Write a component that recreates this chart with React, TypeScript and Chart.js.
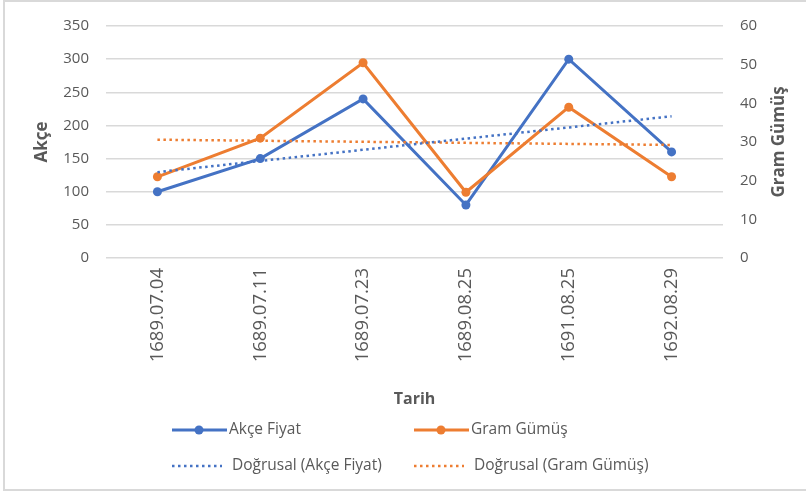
import React, { useEffect, useRef } from "react";
import { Chart, registerables } from "chart.js";

Chart.register(...registerables);

const categories = ["1689.07.04", "1689.07.11", "1689.07.23", "1689.08.25", "1691.08.25", "1692.08.29"];
const akceFiyat = [100, 150, 240, 80, 300, 160];
const gramGumus = [21, 31, 50.5, 17, 39, 21];
const leftTicks = [0, 50, 100, 150, 200, 250, 300, 350];
const rightTicks = [0, 10, 20, 30, 40, 50, 60];

const BLUE = "#4472C4";
const ORANGE = "#ED7D31";
const TEXT = "#595959";
const GRID = "#d9d9d9";
const FONT = "'Open Sans'";

// Linear trendline (least squares) over category index, as Excel's "Doğrusal" trendline
function linearTrend(values: number[]): number[] {
  const n = values.length;
  const xs = values.map((_, i) => i + 1);
  const mx = xs.reduce((a, b) => a + b, 0) / n;
  const my = values.reduce((a, b) => a + b, 0) / n;
  let sxy = 0;
  let sxx = 0;
  for (let i = 0; i < n; i++) {
    sxy += (xs[i] - mx) * (values[i] - my);
    sxx += (xs[i] - mx) * (xs[i] - mx);
  }
  const slope = sxy / sxx;
  return xs.map((x) => my + slope * (x - mx));
}

const decorPlugin = {
  id: "decor",
  afterDraw(chart: any) {
    const ctx = chart.ctx;
    ctx.save();
    // outer border (left, top, bottom)
    ctx.strokeStyle = GRID;
    ctx.lineWidth = 2;
    ctx.beginPath();
    ctx.moveTo(806, 1);
    ctx.lineTo(4, 1);
    ctx.lineTo(4, 490);
    ctx.lineTo(806, 490);
    ctx.stroke();

    // right axis title, reading bottom to top
    const area = chart.chartArea;
    ctx.fillStyle = TEXT;
    ctx.font = `bold 17px ${FONT}`;
    ctx.textAlign = "center";
    ctx.textBaseline = "middle";
    ctx.translate(779, (area.top + area.bottom) / 2);
    ctx.rotate(-Math.PI / 2);
    ctx.fillText("Gram Gümüş", 0, 0);
    ctx.restore();

    // legend (2x2 grid)
    const ds = chart.data.datasets;
    const items = [
      { d: ds[0], x: 172, y: 430 },
      { d: ds[1], x: 414, y: 430 },
      { d: ds[2], x: 172, y: 466 },
      { d: ds[3], x: 414, y: 466 },
    ];
    ctx.save();
    for (const it of items) {
      const dotted = !!it.d.borderDash;
      ctx.strokeStyle = it.d.borderColor;
      ctx.lineWidth = dotted ? 2.5 : 3;
      ctx.setLineDash(dotted ? [2.5, 3.5] : []);
      ctx.beginPath();
      ctx.moveTo(it.x, it.y);
      ctx.lineTo(it.x + (dotted ? 50 : 55), it.y);
      ctx.stroke();
      ctx.setLineDash([]);
      if (!dotted) {
        ctx.fillStyle = it.d.borderColor;
        ctx.beginPath();
        ctx.arc(it.x + 27, it.y, 4.5, 0, Math.PI * 2);
        ctx.fill();
      }
      ctx.fillStyle = TEXT;
      ctx.font = `15.5px ${FONT}`;
      ctx.textAlign = "left";
      ctx.textBaseline = "middle";
      ctx.fillText(it.d.label, it.x + (dotted ? 60 : 57), it.y);
    }
    ctx.restore();
  },
};

export default function App() {
  const ref = useRef<HTMLCanvasElement | null>(null);

  useEffect(() => {
    if (!ref.current) return;
    const chart = new Chart(ref.current, {
      type: "line",
      data: {
        labels: categories,
        datasets: [
          {
            label: "Akçe Fiyat",
            data: akceFiyat,
            yAxisID: "y",
            borderColor: BLUE,
            backgroundColor: BLUE,
            borderWidth: 3,
            pointRadius: 4.5,
            pointBorderWidth: 0,
            pointBackgroundColor: BLUE,
            tension: 0,
            order: 2,
          },
          {
            label: "Gram Gümüş",
            data: gramGumus,
            yAxisID: "y1",
            borderColor: ORANGE,
            backgroundColor: ORANGE,
            borderWidth: 3,
            pointRadius: 4.5,
            pointBorderWidth: 0,
            pointBackgroundColor: ORANGE,
            tension: 0,
            order: 1,
          },
          {
            label: "Doğrusal (Akçe Fiyat)",
            data: linearTrend(akceFiyat),
            yAxisID: "y",
            borderColor: BLUE,
            borderWidth: 2.5,
            borderDash: [2.5, 3.5],
            pointRadius: 0,
            tension: 0,
            order: 0,
          },
          {
            label: "Doğrusal (Gram Gümüş)",
            data: linearTrend(gramGumus),
            yAxisID: "y1",
            borderColor: ORANGE,
            borderWidth: 2.5,
            borderDash: [2.5, 3.5],
            pointRadius: 0,
            tension: 0,
            order: 0,
          },
        ],
      },
      options: {
        animation: false,
        responsive: false,
        layout: { padding: { top: 23, bottom: 80, left: 0, right: 0 } },
        plugins: { legend: { display: false }, tooltip: { enabled: false } },
        scales: {
          x: {
            offset: true,
            grid: { display: false, drawTicks: false, offset: true },
            border: { display: false },
            ticks: {
              color: TEXT,
              font: { family: FONT, size: 18.5 },
              minRotation: 90,
              maxRotation: 90,
              padding: 10,
              autoSkip: false,
            },
            title: {
              display: true,
              text: "Tarih",
              color: TEXT,
              font: { family: FONT, size: 16, weight: "bold" },
              padding: { top: 0, bottom: 3 },
            },
            afterFit(scale: any) {
              scale.height = 154;
            },
          },
          y: {
            position: "left",
            min: 0,
            max: 350,
            afterBuildTicks(scale: any) {
              scale.ticks = leftTicks.map((v) => ({ value: v }));
            },
            grid: { color: GRID, lineWidth: 1.5, drawTicks: false },
            border: { display: false },
            ticks: {
              color: TEXT,
              font: { family: FONT, size: 15 },
              padding: 17,
            },
            title: {
              display: true,
              text: "Akçe",
              color: TEXT,
              font: { family: FONT, size: 17, weight: "bold" },
              padding: { top: 32, bottom: 0 },
            },
            afterFit(scale: any) {
              scale.width = 106;
            },
          },
          y1: {
            position: "right",
            min: 0,
            max: 60,
            afterBuildTicks(scale: any) {
              scale.ticks = rightTicks.map((v) => ({ value: v }));
            },
            grid: { display: false, drawTicks: false },
            border: { display: false },
            ticks: {
              color: TEXT,
              font: { family: FONT, size: 15 },
              padding: 17,
            },
            afterFit(scale: any) {
              scale.width = 83;
            },
          },
        },
      },
      plugins: [decorPlugin],
    });
    return () => chart.destroy();
  }, []);

  return (
    <div style={{ position: "absolute", left: 0, top: 0, width: 806, height: 492, background: "#fff" }}>
      <canvas ref={ref} width={806} height={492} style={{ width: 806, height: 492, display: "block" }} />
    </div>
  );
}
